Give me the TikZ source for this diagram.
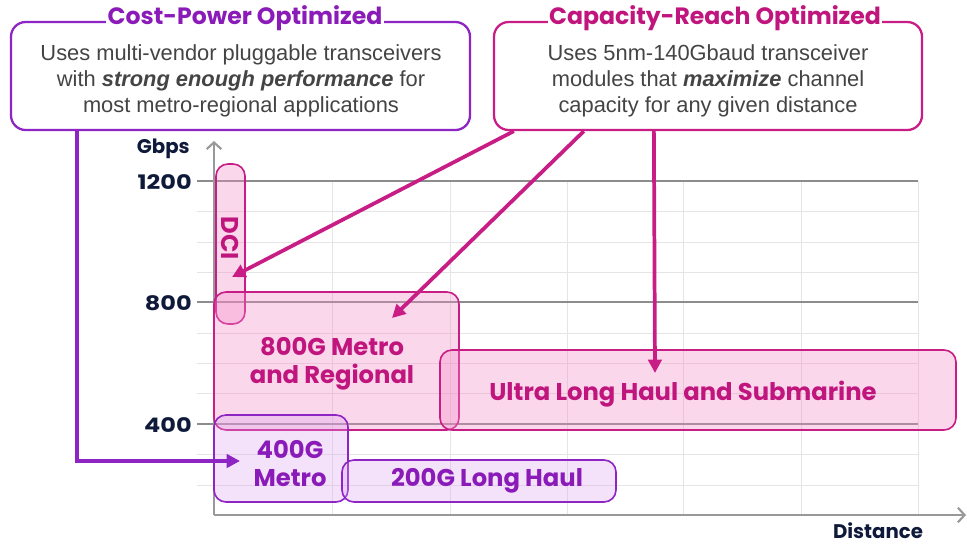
\documentclass[tikz,border=0pt]{standalone}
\usepackage{fontspec}
\setmainfont{Liberation Sans}
\newfontfamily\lblfont{Poppins}
\usetikzlibrary{arrows.meta,fit,calc}
\definecolor{pinkc}{HTML}{C81D85}
\definecolor{purc}{HTML}{8E24C4}
\definecolor{pinkt}{HTML}{C0157D}
\definecolor{purt}{HTML}{8A1BB8}
\definecolor{pinkf}{HTML}{F48CC8}
\definecolor{purf}{HTML}{D9A0F0}
\definecolor{navy}{HTML}{0F1A3A}
\definecolor{bodyc}{HTML}{444444}
\tikzset{
  minorl/.style={draw=black!10, line width=0.75pt},
  majorl/.style={draw=black!45, line width=2pt},
  axisl/.style={draw=black!40, line width=1.6pt, -{Straight Barb[length=5pt,width=11pt,line width=1.6pt]}},
  axlbl/.style={font=\lblfont\bfseries\fontsize{14.8}{16}\selectfont, text=navy, inner sep=0pt},
  numlbl/.style={font=\lblfont\bfseries\fontsize{15}{16}\selectfont, text=navy, inner sep=0pt, xscale=1.2},
  pbox/.style={draw=pinkc, line width=1.2pt, fill=pinkf, fill opacity=0.35, rounded corners=9pt, inner sep=0pt},
  ubox/.style={draw=purc, line width=1.2pt, fill=purf, fill opacity=0.3, rounded corners=9pt, inner sep=0pt},
  topbox/.style={draw=#1, line width=1.7pt, fill=white, rounded corners=11pt, inner sep=0pt},
  ttl/.style={font=\lblfont\bfseries\fontsize{17.7}{19}\selectfont, fill=white, inner xsep=1pt, inner ysep=0pt},
  bodytxt/.style={font=\fontsize{16.4}{19.5}\selectfont, text=bodyc, align=center, inner sep=0pt},
  blbl/.style={font=\lblfont\bfseries\fontsize{18.2}{21}\selectfont, align=center, inner sep=0pt},
  parr/.style={draw=purc, line width=2.8pt, -{Triangle[length=10pt,width=10pt]}},
  karr/.style={draw=pinkc, line width=2.8pt, -{Triangle[length=10pt,width=10pt]}},
}
\begin{document}
\begin{tikzpicture}[x=0.75pt,y=-0.75pt]
\useasboundingbox (0,0) rectangle (967,544);
% grid
\foreach \yy in {211,242,272,333,363,393,454,485} \draw[minorl] (197,\yy) -- (918,\yy);
\foreach \xx in {332,450,567,683,801,918} \draw[minorl] (\xx,181) -- (\xx,515);
\foreach \yy in {181,302,424} \draw[majorl] (197,\yy) -- (918,\yy);
\coordinate (origin) at (214,515);
\coordinate (ytip) at (214,141);
\coordinate (xtip) at (966,515);
\draw[axisl] (origin) -- (ytip);
\draw[axisl] (origin) -- (xtip);
% axis labels
\node[axlbl, anchor=east] (gbps) at (190,149) {Gbps};
\node[numlbl, anchor=east] (l1200) at (192,182) {1200};
\node[numlbl, anchor=east] (l800) at (192,303) {800};
\node[numlbl, anchor=east] (l400) at (192,425) {400};
\node[axlbl] (dist) at (878,531) {Distance};
% region boxes
\node[pbox, fit={(216,164) (245,324)}] (dci) {};
\node[pbox, fit={(214,292) (459,430)}] (m800) {};
\node[pbox, fit={(440,350) (956,430)}] (ulh) {};
\node[ubox, fit={(214,415) (348,502)}] (m400) {};
\node[ubox, fit={(342,460) (616,502)}] (lh200) {};
\node[blbl, text=pinkt, rotate=-90] (dcit) at (230,238) {DCI};
\node[blbl, text=pinkt] (m800t) at (332,364) {800G Metro\\and Regional};
\node[blbl, text=pinkt] (ulht) at (683,394) {Ultra Long Haul and Submarine};
\node[blbl, text=purt] (m400t) at (290,464) {400G\\Metro};
\node[blbl, text=purt] (lh200t) at (487,481) {200G Long Haul};
% top boxes
\node[topbox=purc, fit={(11,22) (470,130)}] (cp) {};
\node[ttl, text=purt] (cpt) at (245,18) {Cost-Power Optimized};
\node[bodytxt] (cpb) at (241,81) {Uses multi-vendor pluggable transceivers\\with \textbf{\textit{strong enough performance}} for\\most metro-regional applications};
\node[topbox=pinkc, fit={(494,22) (922,130)}] (cr) {};
\node[ttl, text=pinkt] (crt) at (715,18) {Capacity-Reach Optimized};
\node[bodytxt] (crb) at (708,81) {Uses 5nm-140Gbaud transceiver\\modules that \textbf{\textit{maximize}} channel\\capacity for any given distance};
% connectors
\coordinate (m400in) at (240,461);
\coordinate (dciin) at (232,277);
\coordinate (m800in) at (392,318);
\coordinate (ulhin) at (655,373);
\draw[parr] ($(cp.south west)+(67,0)$) |- (m400in);
\draw[karr] ($(cr.south west)+(21,0)$) -- (dciin);
\draw[karr] ($(cr.south west)+(91,0)$) -- (m800in);
\draw[karr] ($(cr.south west)+(161,0)$) -- (ulhin);
\end{tikzpicture}
\end{document}
